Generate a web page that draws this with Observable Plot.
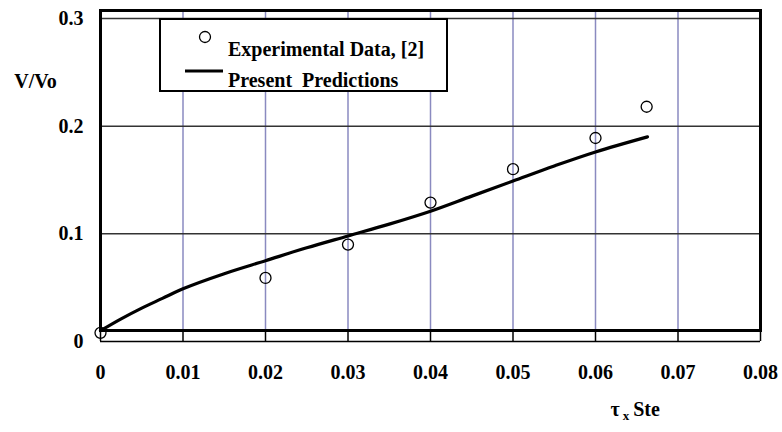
<!DOCTYPE html>
<html>
<head>
<meta charset="utf-8">
<script src="https://cdn.jsdelivr.net/npm/d3@7"></script>
<script src="https://cdn.jsdelivr.net/npm/@observablehq/plot@0.6"></script>
<style>
  html, body { margin: 0; padding: 0; background: #fff; }
  svg text { font-family: "Liberation Serif", "DejaVu Serif", serif !important; font-weight: bold !important; }
</style>
</head>
<body>
<div id="chart"></div>
<script>
// ---- data ----
const expX = [0, 0.02, 0.03, 0.04, 0.05, 0.06, 0.0662];
const expY = [0.008, 0.059, 0.090, 0.129, 0.160, 0.189, 0.218];

const predX = [0, 0.0025, 0.005, 0.0075, 0.01, 0.015, 0.02, 0.025, 0.03, 0.035, 0.04, 0.045, 0.05, 0.055, 0.06, 0.0663];
const predY = [0.010, 0.021, 0.031, 0.040, 0.049, 0.063, 0.075, 0.087, 0.098, 0.109, 0.121, 0.135, 0.149, 0.163, 0.176, 0.190];

const xTicks = [0, 0.01, 0.02, 0.03, 0.04, 0.05, 0.06, 0.07, 0.08];
const xTickLabels = ["0", "0.01", "0.02", "0.03", "0.04", "0.05", "0.06", "0.07", "0.08"];
const yTicks = [0, 0.1, 0.2, 0.3];
const yTickLabels = ["0", "0.1", "0.2", "0.3"];
const yGrid = [0.1, 0.2, 0.3];
const xGrid = [0.01, 0.02, 0.03, 0.04, 0.05, 0.06, 0.07];

const legendLabels = ["Experimental Data, [2]", "Present  Predictions"];
const yLabel = "V/Vo";

// plot frame extends slightly beyond the 0..0.3 value range (as in the reference)
const yDomain = [0.0102, 0.3074];

const expData = expX.map((x, i) => ({x, y: expY[i]}));
const predData = predX.map((x, i) => ({x, y: predY[i]}));

const font = '"Liberation Serif", "DejaVu Serif", serif';
const fs = 20;

const plot = Plot.plot({
  width: 782,
  height: 432,
  marginLeft: 100,
  marginRight: 22,
  marginTop: 10,
  marginBottom: 102,
  style: {fontFamily: font, fontSize: fs + "px", fontWeight: "bold", background: "#fff", overflow: "visible"},
  x: {domain: [0, 0.08]},
  y: {domain: yDomain},
  marks: [
    Plot.gridX(xGrid, {stroke: "#8a8ac0", strokeOpacity: 1, strokeWidth: 1.5}),
    Plot.gridY(yGrid, {stroke: "#333", strokeOpacity: 1, strokeWidth: 1.5}),
    // x axis baseline at y=0 and tick marks between it and the frame
    Plot.ruleY([0], {x1: 0, x2: 0.08, stroke: "#000", strokeWidth: 1.5}),
    Plot.ruleX(xTicks, {y1: 0, y2: yDomain[0], stroke: "#000", strokeWidth: 1.5}),
    Plot.axisX(xTicks, {tickSize: 0, tickPadding: 34, tickFormat: (d, i) => xTickLabels[i], fontSize: fs, fontWeight: "bold", fontFamily: font, label: null}),
    Plot.axisY(yTicks, {tickSize: 0, tickPadding: 17, tickFormat: (d, i) => yTickLabels[i], fontSize: fs, fontWeight: "bold", fontFamily: font, label: null}),
    Plot.line(predData, {x: "x", y: "y", stroke: "#000", strokeWidth: 3.2, curve: "catmull-rom"}),
    Plot.dot(expData, {x: "x", y: "y", r: 5.5, stroke: "#000", strokeWidth: 1.3, fill: "none"}),
    Plot.frame({stroke: "#000", strokeWidth: 3}),
    Plot.text([yLabel], {frameAnchor: "top-left", dx: -65, dy: 63, text: d => d, fontSize: fs, fontWeight: "bold", fontFamily: font, textAnchor: "middle"}),
    Plot.text(["tau"], {frameAnchor: "bottom-left", dx: 510, dy: 85, text: d => "τ x Ste", fontSize: fs, fontWeight: "bold", fontFamily: font, textAnchor: "start", className: "xtitle"})
  ]
});

document.getElementById("chart").appendChild(plot);

const svg = d3.select(plot);

// x-axis title with subscript
const xt = svg.select(".xtitle text");
xt.text(null);
xt.append("tspan").text("τ");
xt.append("tspan").attr("font-size", 13).attr("dy", 4).attr("dx", 3).text("x");
xt.append("tspan").attr("dy", -4).attr("dx", 4).text("Ste");

// legend box
const lg = svg.append("g").attr("text-anchor", "start");
lg.append("rect").attr("x", 160).attr("y", 19).attr("width", 287).attr("height", 72)
  .attr("fill", "#fff").attr("stroke", "#000").attr("stroke-width", 2);
lg.append("circle").attr("cx", 205).attr("cy", 37).attr("r", 5.5)
  .attr("fill", "none").attr("stroke", "#000").attr("stroke-width", 1.3);
lg.append("line").attr("x1", 185).attr("x2", 223).attr("y1", 71).attr("y2", 71)
  .attr("stroke", "#000").attr("stroke-width", 3.2);
lg.append("text").attr("x", 228).attr("y", 56).attr("font-size", fs)
  .attr("text-anchor", "start").text(legendLabels[0]);
lg.append("text").attr("x", 228).attr("y", 87).attr("font-size", fs)
  .attr("text-anchor", "start").style("white-space", "pre").text(legendLabels[1]);
</script>
</body>
</html>
